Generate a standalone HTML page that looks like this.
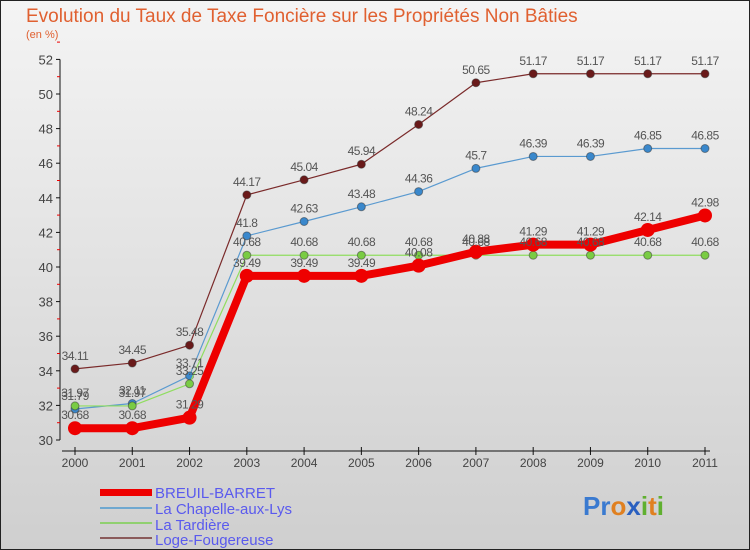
<!DOCTYPE html>
<html><head><meta charset="utf-8"><style>
body{margin:0;width:750px;height:550px;overflow:hidden;font-family:"Liberation Sans",sans-serif}
#wrap{position:absolute;left:0;top:0;width:748px;height:548px;border:1px solid #222;background:linear-gradient(#f4f4f4,#cfcfcf)}
</style></head><body>
<div id="wrap">
<svg id="chart" width="750" height="550" style="position:absolute;left:-1px;top:-1px">
<text x="26" y="22" font-size="19" fill="#e06030">Evolution du Taux de Taxe Foncière sur les Propriétés Non Bâties</text>
<text x="26" y="38" font-size="11" fill="#e06030">(en %)</text>
<g id="axes"></g><g id="series"></g><g id="labels"></g>
<g font-size="15" fill="#5a5aee">
<rect x="100" y="489" width="52" height="7" fill="#ee0000"/>
<text x="155" y="498">BREUIL-BARRET</text>
<rect x="100" y="507" width="52" height="2" fill="#6fa8d0"/>
<text x="155" y="514">La Chapelle-aux-Lys</text>
<rect x="100" y="522" width="52" height="2" fill="#90d070"/>
<text x="155" y="530">La Tardière</text>
<rect x="100" y="537" width="52" height="2" fill="#8a5a5a"/>
<text x="155" y="545">Loge-Fougereuse</text>
</g>
<text x="583" y="515" font-size="26" font-weight="bold"><tspan fill="#3a7ad0">Pr</tspan><tspan fill="#e08020">o</tspan><tspan fill="#2a60c0">x</tspan><tspan fill="#60b030">i</tspan><tspan fill="#e08020">t</tspan><tspan fill="#60b030">i</tspan></text>
</svg></div>
<script>
const years=[2000,2001,2002,2003,2004,2005,2006,2007,2008,2009,2010,2011];
const yTicks=[30,32,34,36,38,40,42,44,46,48,50,52];
const breuil=[30.68,30.68,31.29,39.49,39.49,39.49,40.08,40.88,41.29,41.29,42.14,42.98];
const chapelle=[31.79,32.11,33.71,41.8,42.63,43.48,44.36,45.7,46.39,46.39,46.85,46.85];
const tardiere=[31.97,31.97,33.25,40.68,40.68,40.68,40.68,40.68,40.68,40.68,40.68,40.68];
const loge=[34.11,34.45,35.48,44.17,45.04,45.94,48.24,50.65,51.17,51.17,51.17,51.17];
const NS="http://www.w3.org/2000/svg";
const xS=i=>75+i*(630/(years.length-1));
const yS=v=>440-(v-30)*17.3;
function mk(t,a,p){const e=document.createElementNS(NS,t);for(const k in a)e.setAttribute(k,a[k]);p.appendChild(e);return e;}
const ax=document.getElementById('axes'),sg=document.getElementById('series'),lg=document.getElementById('labels');
let l=mk('line',{x1:60,y1:yS(52),x2:60,y2:440,stroke:'#111'},ax);


l=mk('line',{x1:62,y1:451,x2:710,y2:451,stroke:'#111'},ax);


yTicks.forEach(v=>{
 mk('line',{x1:56,y1:yS(v),x2:60,y2:yS(v),stroke:'#111'},ax);
 mk('line',{x1:57,y1:yS(v+1),x2:60,y2:yS(v+1),stroke:'#e00'},ax);
 const t=mk('text',{x:53,y:yS(v)+5,'font-size':13,'text-anchor':'end',fill:'#444'},ax);t.textContent=v;
 
 
});
years.forEach((y,i)=>{
 mk('line',{x1:xS(i),y1:447,x2:xS(i),y2:455,stroke:'#111'},ax);
 const t=mk('text',{x:xS(i),y:467,'font-size':12,'text-anchor':'middle',fill:'#444'},ax);t.textContent=y;
 
 
});
function series(d,col,w,r,name,fill){
 const p=mk('polyline',{points:d.map((v,i)=>xS(i)+','+yS(v)).join(' '),fill:'none',stroke:col,'stroke-width':w,'stroke-linejoin':'round'},sg);
 
 
 d.forEach((v,i)=>{
  const c=mk('circle',{cx:xS(i),cy:yS(v),r:r,fill:fill,stroke:'#333','stroke-opacity':r>6?0:0.5},sg);
  
  
  const t=mk('text',{x:xS(i),y:yS(v)-9,'font-size':12,'text-anchor':'middle',fill:'#555','letter-spacing':'-0.5'},lg);t.textContent=v;
  
  
 });
}
series(loge,'#7a2a2a',1.2,4,'loge','#6a1a1a');
series(chapelle,'#5a9ad0',1.2,4,'chapelle','#3a88cc');
series(tardiere,'#90dd60',1.2,4,'tardiere','#7acc44');
series(breuil,'#ee0000',8,7,'breuil','#ee0000');
</script>
</body></html>
